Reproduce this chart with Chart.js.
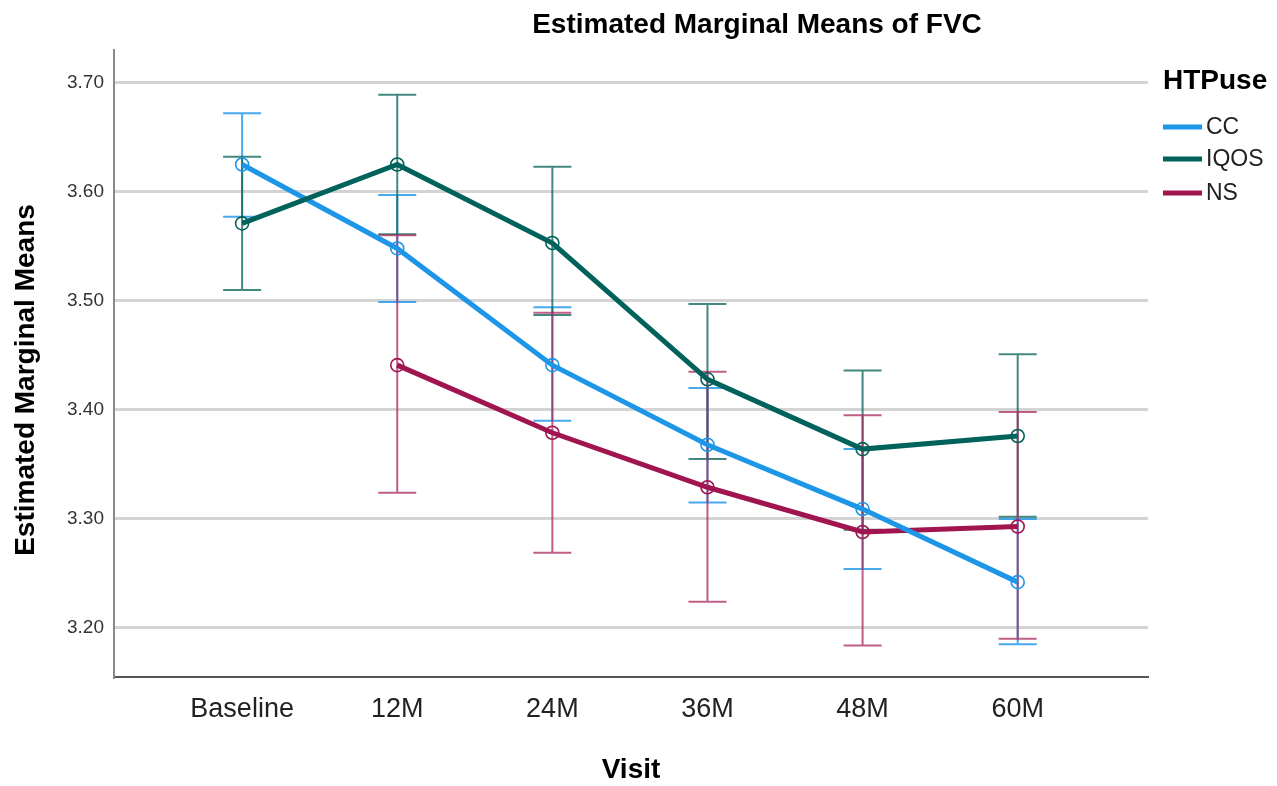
<!DOCTYPE html>
<html>
<head>
<meta charset="utf-8">
<script src="https://cdn.jsdelivr.net/npm/chart.js@4/dist/chart.umd.min.js"></script>
<style>
  html, body { margin: 0; padding: 0; background: #ffffff; }
  #wrap { width: 1277px; height: 786px; position: relative; }
</style>
</head>
<body>
<div id="wrap"><canvas id="c" width="1277" height="786"></canvas></div>
<script>
const categories = ['Baseline', '12M', '24M', '36M', '48M', '60M'];
const yTickValues = [3.2, 3.3, 3.4, 3.5, 3.6, 3.7];

const ccMean   = [3.625, 3.548, 3.441, 3.368, 3.309, 3.242];
const ccLow    = [3.577, 3.499, 3.390, 3.315, 3.254, 3.185];
const ccHigh   = [3.672, 3.597, 3.494, 3.420, 3.364, 3.300];

const iqosMean = [3.571, 3.625, 3.553, 3.428, 3.364, 3.376];
const iqosLow  = [3.510, 3.561, 3.487, 3.355, 3.290, 3.302];
const iqosHigh = [3.632, 3.689, 3.623, 3.497, 3.436, 3.451];

const nsMean   = [null, 3.441, 3.379, 3.329, 3.288, 3.293];
const nsLow    = [null, 3.324, 3.269, 3.224, 3.184, 3.190];
const nsHigh   = [null, 3.560, 3.489, 3.435, 3.395, 3.398];

const seriesNames = ['CC', 'IQOS', 'NS'];
const FONT = "'Liberation Sans', Arial, sans-serif";

function pts(arr) { return arr.map((v, i) => ({ x: i, y: v })); }

const ds = [
  { label: 'CC', data: pts(ccMean), low: ccLow, high: ccHigh,
    borderColor: '#1e96e8', errColor: 'rgba(40,155,235,0.85)', order: 1 },
  { label: 'IQOS', data: pts(iqosMean), low: iqosLow, high: iqosHigh,
    borderColor: '#00625a', errColor: 'rgba(20,105,98,0.8)', order: 0 },
  { label: 'NS', data: pts(nsMean), low: nsLow, high: nsHigh,
    borderColor: '#a0144f', errColor: 'rgba(170,40,95,0.75)', order: 2 }
].map(d => Object.assign(d, {
  borderWidth: 5,
  pointRadius: 6.5,
  pointBorderWidth: 1.6,
  pointBorderColor: d.borderColor,
  pointBackgroundColor: 'rgba(0,0,0,0)',
  fill: false,
  tension: 0,
  spanGaps: false
}));

const errorBars = {
  id: 'errorBars',
  beforeDatasetsDraw(chart) {
    const ctx = chart.ctx, xs = chart.scales.x, ys = chart.scales.y;
    ctx.save();
    chart.data.datasets.forEach(d => {
      ctx.strokeStyle = d.errColor;
      ctx.lineWidth = 2;
      d.low.forEach((lo, i) => {
        const hi = d.high[i];
        if (lo == null || hi == null) return;
        const x = xs.getPixelForValue(i);
        const y1 = ys.getPixelForValue(lo), y2 = ys.getPixelForValue(hi);
        ctx.beginPath();
        ctx.moveTo(x, y1); ctx.lineTo(x, y2);
        ctx.moveTo(x - 19, y1); ctx.lineTo(x + 19, y1);
        ctx.moveTo(x - 19, y2); ctx.lineTo(x + 19, y2);
        ctx.stroke();
      });
    });
    ctx.restore();
  }
};

const texts = {
  id: 'texts',
  afterDraw(chart) {
    const ctx = chart.ctx, a = chart.chartArea;
    ctx.save();
    ctx.fillStyle = '#000';
    ctx.font = 'bold 28px ' + FONT;
    ctx.textAlign = 'center';
    ctx.textBaseline = 'middle';
    ctx.fillText('Estimated Marginal Means of FVC', 757, 25);
    ctx.fillText('Visit', (a.left + a.right) / 2, 770);
    ctx.save();
    ctx.translate(26, 380);
    ctx.rotate(-Math.PI / 2);
    ctx.fillText('Estimated Marginal Means', 0, 0);
    ctx.restore();
    ctx.textAlign = 'left';
    ctx.font = 'bold 28px ' + FONT;
    ctx.fillText('HTPuse', 1163, 81);
    ctx.font = '23px ' + FONT;
    const ys = [127, 159, 193];
    chart.data.datasets.forEach((d, i) => {
      ctx.strokeStyle = d.borderColor;
      ctx.lineWidth = 5;
      ctx.beginPath();
      ctx.moveTo(1163, ys[i]); ctx.lineTo(1202, ys[i]);
      ctx.stroke();
      ctx.fillStyle = '#222';
      ctx.fillText(seriesNames[i], 1206, ys[i] + 1);
    });
    ctx.restore();
  }
};

new Chart(document.getElementById('c'), {
  type: 'line',
  data: { datasets: ds },
  options: {
    responsive: false,
    animation: false,
    devicePixelRatio: 1,
    layout: { padding: { left: 0, top: 50, right: 129, bottom: 0 } },
    plugins: { legend: { display: false }, tooltip: { enabled: false }, title: { display: false } },
    scales: {
      x: {
        type: 'linear',
        min: -0.826,
        max: 5.84,
        afterFit(s) { s.height = 109; },
        afterBuildTicks(s) { s.ticks = categories.map((c, i) => ({ value: i })); },
        ticks: {
          callback: (v) => categories[v],
          font: { family: FONT, size: 27 },
          color: '#222',
          padding: 16,
          maxRotation: 0,
          autoSkip: false
        },
        grid: { display: false, drawTicks: false },
        border: { display: true, color: '#555', width: 2 }
      },
      y: {
        type: 'linear',
        min: 3.155,
        max: 3.730,
        afterFit(s) { s.width = 114; },
        afterBuildTicks(s) { s.ticks = yTickValues.map(v => ({ value: v })); },
        ticks: {
          callback: (v) => v.toFixed(2),
          font: { family: FONT, size: 19 },
          color: '#333',
          padding: 10
        },
        grid: { color: '#d4d4d4', lineWidth: 3, drawTicks: false },
        border: { display: true, color: '#8a8a8a', width: 2 }
      }
    }
  },
  plugins: [errorBars, texts]
});
</script>
</body>
</html>
